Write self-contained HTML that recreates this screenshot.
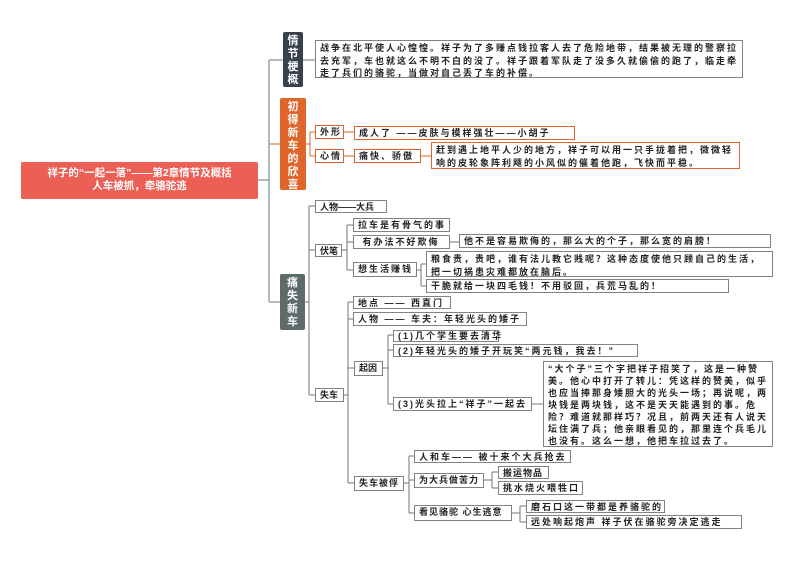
<!DOCTYPE html>
<html><head><meta charset="utf-8"><style>
body{margin:0;width:793px;height:561px;background:#fff;position:relative;overflow:hidden;font-family:"Liberation Sans","Noto Sans CJK SC",sans-serif;}
.b{position:absolute;box-sizing:border-box;border:1.5px solid #7b8585;font-size:9px;font-weight:bold;color:#222;line-height:11px;padding:1px 4px;white-space:nowrap;background:#fff;letter-spacing:2px;}
.o{border-color:#e0652a;}
.w{white-space:normal;line-height:12.5px;}
.v{position:absolute;box-sizing:border-box;color:#fff;font-family:"Liberation Sans","Noto Sans CJK SC",sans-serif;font-weight:bold;font-size:11px;line-height:13px;text-align:center;border-radius:2px;padding-top:3px;}
svg{position:absolute;left:0;top:0;}
</style></head><body>
<svg width="793" height="561" fill="none" stroke-width="1">
<g stroke="#6d7777">
<path d="M258 180H269M269 60V302M269 60H283M269 302H280M303 60H315"/>
<path d="M305 302H309M309 206V395M309 206H315M309 250H315M309 395H315"/>
<path d="M342 250H347M347 225V270M347 225H353M347 242H353M347 270H353M450 242H459"/>
<path d="M417 270H421M421 264V286M421 264H426M421 286H426"/>
<path d="M344 395H348M348 302V483M348 302H353M348 319H353M348 368H354M348 483H354"/>
<path d="M383 368H388M388 335V404M388 335H393M388 350H393M388 404H393M532 404H543"/>
<path d="M404 483H409M409 456V513M409 456H414M409 480H414M409 513H414"/>
<path d="M484 480H492M492 472V488M492 472H498M492 488H498"/>
<path d="M512 513H520M520 506V522M520 506H526M520 522H526"/>
</g>
<g stroke="#e0652a"><path d="M269 144H280"/></g>
<g stroke="#e0652a"><path d="M306 144H310M310 132V156M310 132H315M310 156H315M344 132H354M344 156H354M421 156H431"/></g>
</svg>

<div class="v" style="left:21px;top:162px;width:237px;height:37px;background:#ec5f55;font-size:10.5px;line-height:13px;padding-top:5px;">祥子的“一起一落”——第2章情节及概括<br>人车被抓，牵骆驼逃</div>
<div class="v" style="left:283px;top:32px;width:20px;height:55px;background:#38424c;">情<br>节<br>梗<br>概</div>
<div class="v" style="left:280px;top:98px;width:26px;height:92px;background:#e0652a;">初<br>得<br>新<br>车<br>的<br>欣<br>喜</div>
<div class="v" style="left:280px;top:274px;width:25px;height:56px;background:#5d6b6b;">痛<br>失<br>新<br>车</div>

<div class="b w" style="left:315px;top:40px;width:428px;height:38px;">战争在北平使人心惶惶。祥子为了多赚点钱拉客人去了危险地带，结果被无理的警察拉去充军，车也就这么不明不白的没了。祥子跟着军队走了没多久就偷偷的跑了，临走牵走了兵们的骆驼，当做对自己丢了车的补偿。</div>

<div class="b o" style="left:315px;top:125px;width:29px;height:14px;">外形</div>
<div class="b o" style="left:354px;top:126px;width:221px;height:14px;">成人了 ——皮肤与模样强壮——小胡子</div>
<div class="b o" style="left:315px;top:149px;width:29px;height:14px;">心情</div>
<div class="b o" style="left:354px;top:149px;width:67px;height:14px;">痛快、骄傲</div>
<div class="b o w" style="left:431px;top:142px;width:309px;height:27px;">赶到遇上地平人少的地方，祥子可以用一只手拢着把，微微轻响的皮轮象阵利飕的小风似的催着他跑，飞快而平稳。</div>

<div class="b" style="left:315px;top:200px;width:72px;height:13px;letter-spacing:0;">人物——大兵</div>
<div class="b" style="left:315px;top:244px;width:27px;height:13px;letter-spacing:0;">伏笔</div>
<div class="b" style="left:353px;top:218px;width:97px;height:14px;">拉车是有骨气的事</div>
<div class="b" style="left:353px;top:235px;width:97px;height:14px;">&nbsp;有办法不好欺侮</div>
<div class="b" style="left:459px;top:234px;width:312px;height:14px;">他不是容易欺侮的，那么大的个子，那么宽的肩膀！</div>
<div class="b" style="left:353px;top:262px;width:64px;height:15px;">想生活赚钱</div>
<div class="b w" style="left:426px;top:251px;width:347px;height:26px;">粮食贵，贵吧，谁有法儿教它贱呢？这种态度使他只顾自己的生活，把一切祸患灾难都放在脑后。</div>
<div class="b" style="left:426px;top:279px;width:303px;height:14px;">干脆就给一块四毛钱！不用驳回，兵荒马乱的！</div>

<div class="b" style="left:353px;top:296px;width:98px;height:13px;">地点 —— 西直门</div>
<div class="b" style="left:353px;top:312px;width:174px;height:14px;">人物 —— 车夫：年轻光头的矮子</div>
<div class="b" style="left:315px;top:388px;width:29px;height:14px;letter-spacing:0;">失车</div>
<div class="b" style="left:354px;top:361px;width:29px;height:15px;letter-spacing:0;">起因</div>
<div class="b" style="left:393px;top:330px;width:106px;height:12px;line-height:9px;">(1)几个学生要去清华</div>
<div class="b" style="left:393px;top:344px;width:245px;height:13px;line-height:10px;">(2)年轻光头的矮子开玩笑“两元钱，我去！”</div>
<div class="b" style="left:393px;top:397px;width:139px;height:14px;">(3)光头拉上“祥子”一起去</div>
<div class="b w" style="left:543px;top:361px;width:230px;height:86px;line-height:12px;">“大个子”三个字把祥子招笑了，这是一种赞美。他心中打开了转儿：凭这样的赞美，似乎也应当捧那身矮胆大的光头一场；再说呢，两块钱是两块钱，这不是天天能遇到的事。危险？难道就那样巧？况且，前两天还有人说天坛住满了兵；他亲眼看见的，那里连个兵毛儿也没有。这么一想，他把车拉过去了。</div>

<div class="b" style="left:354px;top:476px;width:50px;height:15px;letter-spacing:1px;">失车被俘</div>
<div class="b" style="left:414px;top:450px;width:157px;height:13px;">人和车—— 被十来个大兵抢去</div>
<div class="b" style="left:414px;top:473px;width:70px;height:15px;letter-spacing:1px;">为大兵做苦力</div>
<div class="b" style="left:498px;top:466px;width:51px;height:13px;letter-spacing:1px;">搬运物品</div>
<div class="b" style="left:498px;top:481px;width:85px;height:14px;">挑水烧火喂牲口</div>
<div class="b" style="left:414px;top:505px;width:98px;height:16px;letter-spacing:1px;">看见骆驼 心生逃意</div>
<div class="b" style="left:526px;top:500px;width:139px;height:13px;">磨石口这一带都是养骆驼的</div>
<div class="b" style="left:526px;top:515px;width:216px;height:14px;">远处响起炮声 祥子伏在骆驼旁决定逃走</div>
</body></html>
